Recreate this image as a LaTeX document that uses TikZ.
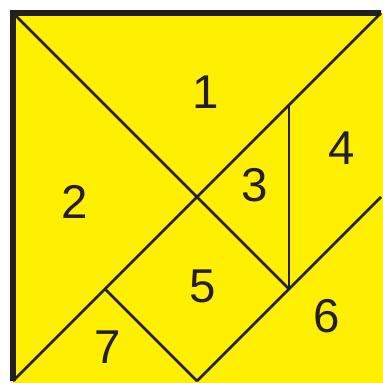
\documentclass[tikz,border=0pt]{standalone}
\usepackage{fontspec}
\setmainfont{Liberation Sans}
\usepackage{tikz}
\usetikzlibrary{positioning}
\definecolor{tanfill}{HTML}{FFF000}
\definecolor{tanline}{HTML}{231F20}

\begin{document}
\begin{tikzpicture}[x=3.68cm,y=3.68cm,
    cut/.style={draw=tanline,line width=0.75pt},
    frame/.style={draw=tanline,line width=1.6pt},
    num/.style={font=\fontsize{13.5}{14}\selectfont,text=tanline,inner sep=0pt}]
    \useasboundingbox (-0.0353,-0.0054) rectangle (1.0054,1.0353);
    \fill[tanfill] (0,-0.0054) rectangle (1.0054,1);

    % corners and cut points
    \coordinate (tl) at (0,1);
    \coordinate (tr) at (1,1);
    \coordinate (bl) at (0,0);
    \coordinate (mid) at (0.5,0.5);
    \coordinate (up) at (0.75,0.75);
    \coordinate (lo) at (0.75,0.25);
    \coordinate (sq) at (0.25,0.25);
    \coordinate (bot) at (0.5,0);
    \coordinate (rgt) at (1,0.5);

    \draw[cut] (tl) -- (mid) -- (lo);
    \draw[cut] (bl) -- (tr);
    \draw[cut] (up) -- (lo);
    \draw[cut] (rgt) -- (bot);
    \draw[cut] (sq) -- (bot);
    \draw[frame] (bl) -- (tl) -- (tr);

    \node[num] (n1) at (0.524,0.785) {1};
    \node[num] (n2) at (0.168,0.486) {2};
    \node[num] (n3) at (0.658,0.533) {3};
    \node[num] (n4) at (0.894,0.633) {4};
    \node[num] (n5) at (0.516,0.258) {5};
    \node[num] (n6) at (0.853,0.177) {6};
    \node[num] (n7) at (0.258,0.092) {7};
\end{tikzpicture}
\end{document}
